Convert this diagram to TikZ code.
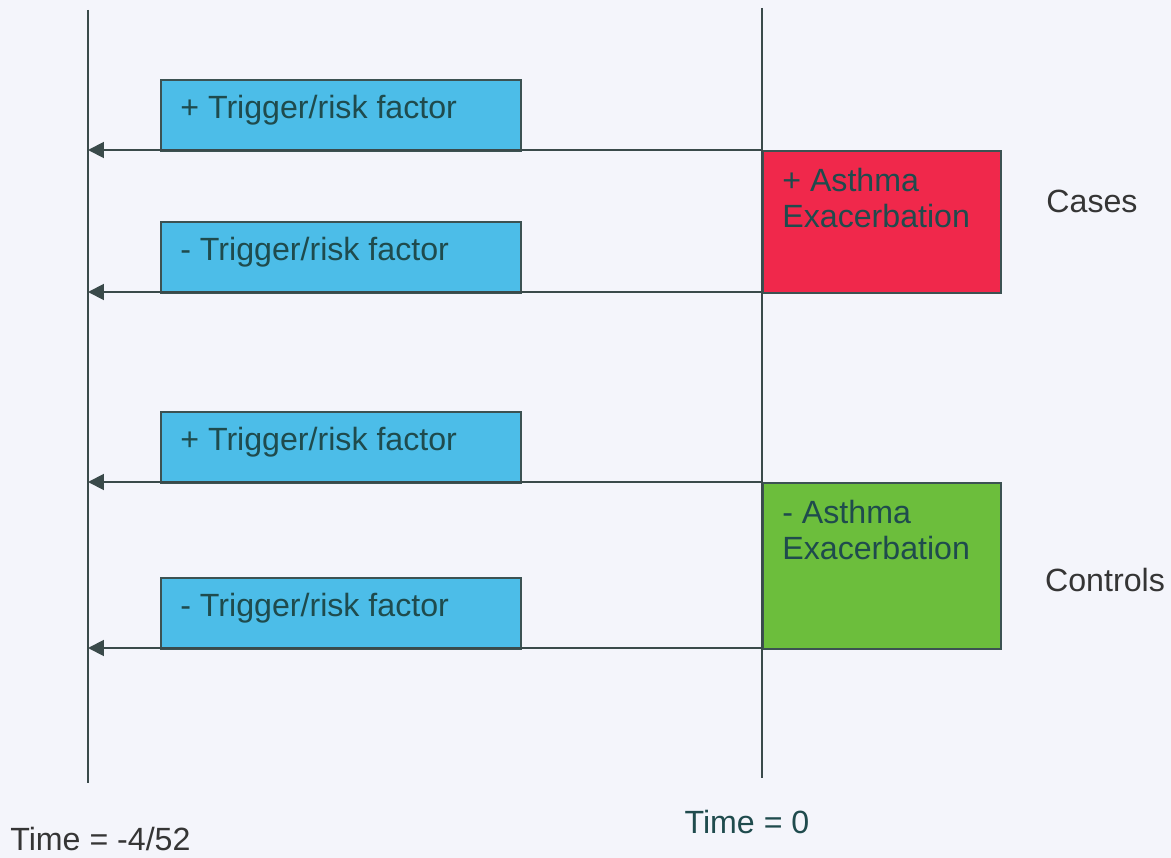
\documentclass[tikz,border=0pt]{standalone}
\usepackage{fontspec}
\setmainfont{Liberation Sans}
\usetikzlibrary{arrows.meta}
\definecolor{bgc}{HTML}{F4F5FB}
\definecolor{linec}{HTML}{3A4A4A}
\definecolor{boxline}{HTML}{3C5252}
\definecolor{bluef}{HTML}{4CBDE8}
\definecolor{redf}{HTML}{F0284B}
\definecolor{greenf}{HTML}{6CBE3C}
\definecolor{boxtext}{HTML}{1F4B4D}
\definecolor{labtext}{HTML}{353535}
\tikzset{
  px/.style={x=0.02cm,y=-0.02cm},
  trig/.style={draw=boxline, line width=0.9pt, fill=bluef, minimum width=7.2cm, minimum height=1.42cm, anchor=north west, inner sep=0pt},
  outbox/.style={draw=boxline, line width=0.9pt, minimum width=4.76cm, anchor=north west, inner sep=0pt},
  btext/.style={text=boxtext, font=\fontsize{18.3}{22}\selectfont, anchor=west, inner sep=0pt},
  otext/.style={text=boxtext, font=\fontsize{18.3}{20.5}\selectfont, anchor=north west, align=left, inner sep=0pt},
  ltext/.style={text=labtext, font=\fontsize{18.3}{22}\selectfont, inner sep=0pt},
  timeline/.style={draw=linec, line width=1.1pt},
  arr/.style={draw=linec, line width=1.1pt, -{Triangle[length=9pt,width=9pt]}}
}
\begin{document}
\begin{tikzpicture}[px]
\fill[bgc] (0,0) rectangle (1171,858);
\useasboundingbox (0,0) rectangle (1171,858);
% time lines
\coordinate (Ltop) at (88,10);
\coordinate (Lbot) at (88,783);
\coordinate (Rtop) at (762,8);
\coordinate (Rbot) at (762,778);
% trigger boxes
\node[trig] (b1) at (160,79) {};
\node[trig] (b2) at (160,221) {};
\node[trig] (b3) at (160,411) {};
\node[trig] (b4) at (160,577) {};
\node[btext] (t1) at (180,110) {+ Trigger/risk factor};
\node[btext] (t2) at (180,252) {- Trigger/risk factor};
\node[btext] (t3) at (180,442) {+ Trigger/risk factor};
\node[btext] (t4) at (180,608) {- Trigger/risk factor};
% outcome boxes
\node[outbox, fill=redf, minimum height=2.84cm] (case) at (762,150) {};
\node[outbox, fill=greenf, minimum height=3.32cm] (ctrl) at (762,482) {};
\node[otext] (ct) at (782,168) {+ Asthma\\Exacerbation};
\node[otext] (kt) at (782,500) {- Asthma\\Exacerbation};
% arrow start/end points
\coordinate (a1s) at (762,150); \coordinate (a1e) at (88,150);
\coordinate (a2s) at (762,292); \coordinate (a2e) at (88,292);
\coordinate (a3s) at (762,482); \coordinate (a3e) at (88,482);
\coordinate (a4s) at (762,648); \coordinate (a4e) at (88,648);
\draw[arr] (a1s) -- (a1e);
\draw[arr] (a2s) -- (a2e);
\draw[arr] (a3s) -- (a3e);
\draw[arr] (a4s) -- (a4e);
\draw[timeline] (Ltop) -- (Lbot);
\draw[timeline] (Rtop) -- (Rbot);
% labels
\node[ltext] (cases) at (1092,201) {Cases};
\node[ltext] (controls) at (1105,580) {Controls};
\node[ltext, anchor=west] (tm) at (10,839) {Time = -4/52};
\node[ltext, text=boxtext] (t0) at (747,822) {Time = 0};
\end{tikzpicture}
\end{document}
